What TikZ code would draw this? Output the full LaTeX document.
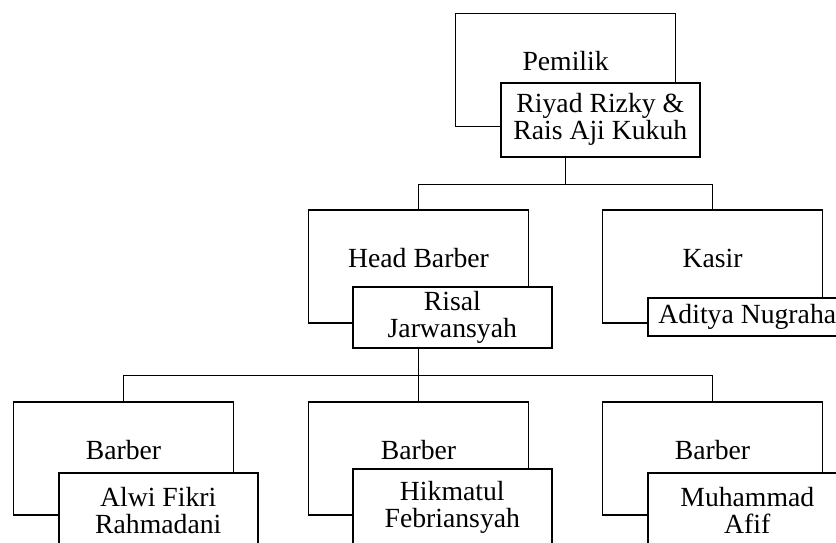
\documentclass[tikz,border=0pt]{standalone}
\usepackage{fontspec}
\setmainfont{Liberation Serif}

\begin{document}
\begin{tikzpicture}[x=1pt, y=-1pt, line width=1.6pt,
        every node/.style={font=\fontsize{27.7pt}{27pt}\selectfont},
        jabatan/.style={draw, fill=white, inner sep=0pt, minimum width=220pt,
            text height=57.5pt, text depth=55.5pt, anchor=north},
        nama/.style={draw, fill=white, inner sep=0pt, minimum width=199pt,
            align=center, anchor=north west}]

        \useasboundingbox (0,0) rectangle (836,543);
        \clip (0,0) rectangle (836,543);

        % Pemilik
        \node[jabatan] (pemilik) at (565.6,12.7) {Pemilik};
        \node[nama, minimum height=74pt] (pemiliknama) at (500,82) {Riyad Rizky \&\\Rais Aji Kukuh};

        % Head barber and kasir
        \node[jabatan] (head) at (418.5,209) {Head Barber};
        \node[nama, minimum height=61pt] (headnama) at (352,286) {Risal\\Jarwansyah};
        \node[jabatan] (kasir) at (712.5,209) {Kasir};
        \node[nama, minimum height=38pt] (kasirnama) at (647,297) {Aditya Nugraha};

        % Barber
        \node[jabatan] (barberA) at (123.5,401) {Barber};
        \node[nama, minimum height=76pt] (barberAnama) at (58,472) {Alwi Fikri\\Rahmadani};
        \node[jabatan] (barberB) at (418.5,401) {Barber};
        \node[nama, minimum height=78pt] (barberBnama) at (352,468) {Hikmatul\\Febriansyah};
        \node[jabatan] (barberC) at (712.5,401) {Barber};
        \node[nama, minimum height=76pt] (barberCnama) at (647,472) {Muhammad\\Afif};

        % Garis
        \draw (pemilik.south |- pemiliknama.south) -- ++(0,27) coordinate (cab1);
        \draw (head.north) |- (cab1) -| (kasir.north);
        \draw (head.south |- headnama.south) -- ++(0,27) coordinate (cab2);
        \draw (barberA.north) |- (cab2) -| (barberC.north);
        \draw (cab2) -- (barberB.north);

    \end{tikzpicture}
\end{document}
